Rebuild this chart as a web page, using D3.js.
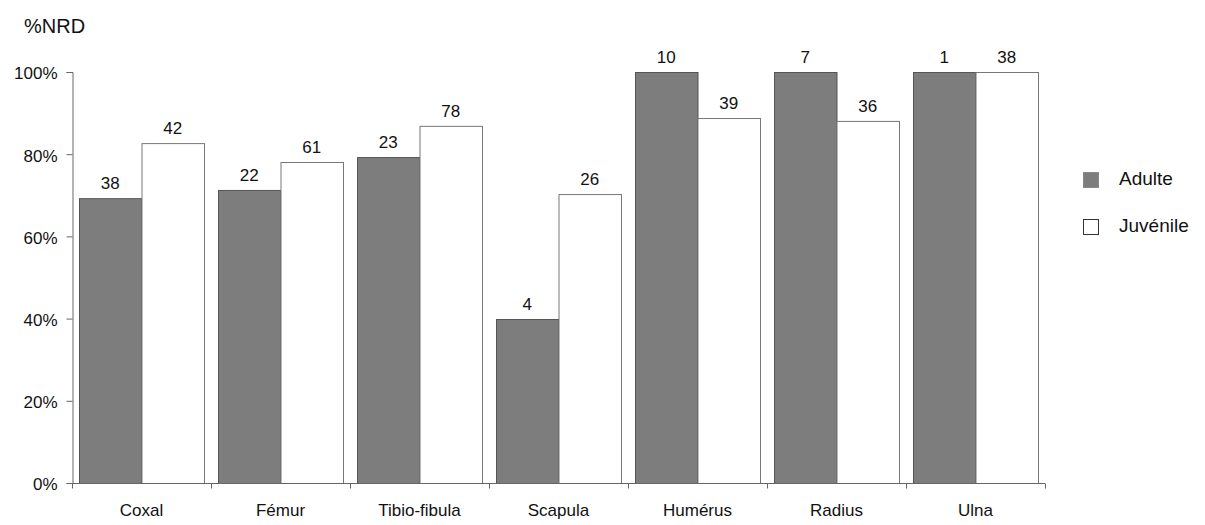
<!DOCTYPE html>
<html>
<head>
<meta charset="utf-8">
<script src="https://cdn.jsdelivr.net/npm/d3@7"></script>
<style>
  body { margin: 0; background: #fff; }
  text { font-family: "Liberation Sans", Arial, sans-serif; fill: #111; }
</style>
</head>
<body>
<svg width="1205" height="525"></svg>
<script>
// bone elements
var categories = ["Coxal", "Fémur", "Tibio-fibula", "Scapula", "Humérus", "Radius", "Ulna"];
var series = ["Adulte", "Juvénile"];
// %NRD values (fraction)
var adulteValues = [0.693, 0.713, 0.793, 0.399, 1.0, 1.0, 1.0];
var juvenileValues = [0.827, 0.781, 0.869, 0.703, 0.888, 0.881, 1.0];
// counts written above the bars
var adulteCounts = [38, 22, 23, 4, 10, 7, 1];
var juvenileCounts = [42, 61, 78, 26, 39, 36, 38];
var yTicks = [0, 0.2, 0.4, 0.6, 0.8, 1.0];

var svg = d3.select("svg");
var plotLeft = 72, plotRight = 1045, plotTop = 72, plotBottom = 483;

var x = d3.scaleBand().domain(categories).range([plotLeft, plotRight]);
var xSub = d3.scaleBand().domain(series).range([7, x.bandwidth() - 7]);
var y = d3.scaleLinear().domain([0, 1]).range([plotBottom, plotTop]);

var colors = { "Adulte": "#7d7d7d", "Juvénile": "#ffffff" };
var strokes = { "Adulte": "#555", "Juvénile": "#777" };

var rows = categories.map(function(c, i) {
  return { cat: c, bars: [
    { s: "Adulte", v: adulteValues[i], n: adulteCounts[i] },
    { s: "Juvénile", v: juvenileValues[i], n: juvenileCounts[i] }
  ]};
});

var groups = svg.selectAll(".grp").data(rows).enter().append("g")
  .attr("class", "grp")
  .attr("transform", function(d) { return "translate(" + x(d.cat) + ",0)"; });

groups.selectAll("rect").data(function(d) { return d.bars; }).enter().append("rect")
  .attr("x", function(d) { return xSub(d.s) + 0.5; })
  .attr("y", function(d) { return y(d.v) + 0.5; })
  .attr("width", xSub.bandwidth())
  .attr("height", function(d) { return plotBottom - y(d.v); })
  .attr("fill", function(d) { return colors[d.s]; })
  .attr("stroke", function(d) { return strokes[d.s]; })
  .attr("stroke-width", 1);

groups.selectAll(".lbl").data(function(d) { return d.bars; }).enter().append("text")
  .attr("class", "lbl")
  .attr("x", function(d) { return xSub(d.s) + xSub.bandwidth() / 2; })
  .attr("y", function(d) { return y(d.v) - 9; })
  .attr("text-anchor", "middle")
  .style("font-size", "17px")
  .text(function(d) { return d.n; });

// axes
var yAxis = d3.axisLeft(y).tickValues(yTicks).tickSize(6).tickFormat(d3.format(".0%"));
var gy = svg.append("g").attr("transform", "translate(" + (plotLeft + 0.5) + ",0)").call(yAxis);
gy.select(".domain").attr("stroke", "#666");
gy.selectAll(".tick line").attr("stroke", "#666");
gy.selectAll(".tick text").attr("x", -15).attr("dy", "0.4em").style("font-size", "17px").style("font-family", "Liberation Sans, Arial, sans-serif").attr("fill", "#111");

var gx = svg.append("g").attr("transform", "translate(0," + (plotBottom + 0.5) + ")");
gx.append("line").attr("x1", plotLeft).attr("x2", plotRight).attr("stroke", "#666");
gx.selectAll(".sep").data(d3.range(categories.length + 1)).enter().append("line")
  .attr("class", "sep")
  .attr("x1", function(i) { return Math.round(plotLeft + i * x.step()) + 0.5; })
  .attr("x2", function(i) { return Math.round(plotLeft + i * x.step()) + 0.5; })
  .attr("y1", 0).attr("y2", 5)
  .attr("stroke", "#666");
gx.selectAll(".cat").data(categories).enter().append("text")
  .attr("x", function(d) { return x(d) + x.bandwidth() / 2; })
  .attr("y", 32)
  .attr("text-anchor", "middle")
  .style("font-size", "17px")
  .text(function(d) { return d; });

svg.append("text").attr("x", 24).attr("y", 33).style("font-size", "20px").text("%NRD");

// legend
var legend = svg.selectAll(".leg").data(series).enter().append("g")
  .attr("transform", function(d, i) { return "translate(1083," + (172 + i * 47) + ")"; });
legend.append("rect")
  .attr("x", 0.5).attr("y", 0.5).attr("width", 15).attr("height", 15)
  .attr("fill", function(d) { return colors[d]; })
  .attr("stroke", function(d) { return d === "Adulte" ? "#8a8a8a" : "#333"; });
legend.append("text").attr("x", 36).attr("y", 13).style("font-size", "19px").text(function(d) { return d; });
</script>
</body>
</html>
